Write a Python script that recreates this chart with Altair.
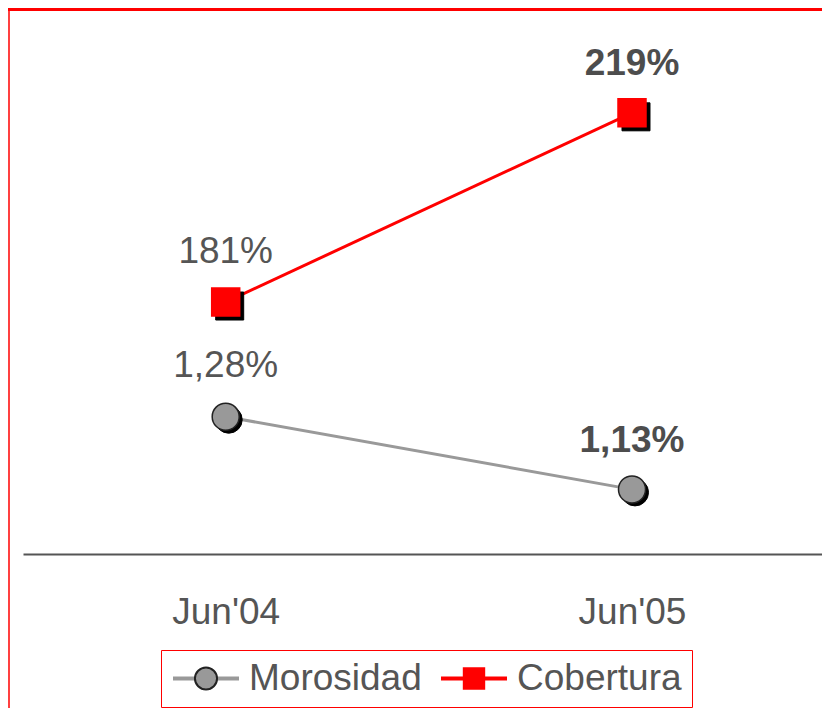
import altair as alt
import pandas as pd

# ---- data ----
periods = ["Jun'04", "Jun'05"]
series_names = ["Morosidad", "Cobertura"]
morosidad = [1.28, 1.13]
cobertura = [181, 219]
bold_flags = [False, True]


def fmt_pct(v, dec):
    return f"{v:.{dec}f}".replace(".", ",") + "%"


mor_df = pd.DataFrame({
    "period": periods,
    "value": morosidad,
    "label": [fmt_pct(v, 2) for v in morosidad],
    "series": "Morosidad",
    "bold": bold_flags,
})
cob_df = pd.DataFrame({
    "period": periods,
    "value": cobertura,
    "label": [fmt_pct(v, 0) for v in cobertura],
    "series": "Cobertura",
    "bold": bold_flags,
})

# ---- style ----
W, H = 799, 542
PAD = {"left": 15, "top": 4, "right": 0, "bottom": 154}
FONT = "Liberation Sans"
TEXT_COLOR = "#555555"
GRAY = "#999999"
RED = "#ff0000"

x_enc = alt.X(
    "period:N",
    sort=periods,
    scale=alt.Scale(type="point", padding=0.48327, align=0.51617),
    axis=alt.Axis(
        title=None, ticks=False, tickSize=0, grid=False,
        domainColor="#555555", domainWidth=2,
        labelFont=FONT, labelFontSize=37, labelColor=TEXT_COLOR,
        labelPadding=40, labelAngle=0,
    ),
)

legend_common = dict(
    title=None, orient="none", legendX=138, legendY=638,
    direction="horizontal", labelFont=FONT, labelFontSize=37,
    labelOffset=8, columnPadding=17, padding=10, clipHeight=37,
    symbolOffset=0, labelLimit=400,
)

legend_a = alt.Legend(
    symbolType="stroke", symbolSize=4356, symbolStrokeWidth=4,
    labelColor=TEXT_COLOR, strokeColor=RED, **legend_common,
)

color_scale = alt.Scale(domain=series_names, range=[GRAY, RED])
legend_line_scale = alt.Scale(domain=series_names, range=["#a0a0a0", RED])


def series_layer(df, domain, shape, size, fill, stroke, shadow_off):
    y = alt.Y("value:Q", scale=alt.Scale(domain=domain, nice=False, zero=False), axis=None)
    base = alt.Chart(df)
    line = base.mark_line(strokeWidth=3).encode(
        x=x_enc, y=y,
        color=alt.Color("series:N", scale=color_scale, legend=legend_a),
    )
    shadow = base.mark_point(
        shape=shape, size=size, filled=True, fill="black", stroke="black",
        strokeWidth=1, opacity=1, xOffset=shadow_off, yOffset=shadow_off,
    ).encode(x=x_enc, y=y)
    pts = base.mark_point(
        shape=shape, size=size, filled=True, fill=fill, stroke=stroke,
        strokeWidth=1.5, opacity=1,
    ).encode(x=x_enc, y=y)
    lab_n = base.transform_filter("!datum.bold").mark_text(
        font=FONT, fontSize=37, color=TEXT_COLOR, baseline="alphabetic", dy=-39.5,
    ).encode(x=x_enc, y=y, text="label:N")
    lab_b = base.transform_filter("datum.bold").mark_text(
        font=FONT, fontSize=37, fontWeight="bold", color="#4d4d4d",
        baseline="alphabetic", dy=-37.5,
    ).encode(x=x_enc, y=y, text="label:N")
    return alt.layer(line, shadow, pts, lab_n, lab_b)


mor_layer = series_layer(mor_df, [0.9967, 2.115], "circle", 730, GRAY, "#222222", 3)
cob_layer = series_layer(cob_df, [130.39, 239.25], "square", 784, RED, RED, 4)

# ---- legend markers (second legend overlaid on the line legend) ----
legend_keys = ["M", "C"]
circle_path = "M-0.325,0A0.325,0.325 0 1,0 0.325,0A0.325,0.325 0 1,0 -0.325,0Z"
square_path = "M-0.3,-0.3H0.3V0.3H-0.3Z"
legend_b = alt.Legend(
    symbolSize=4624, symbolStrokeWidth=2, labelOpacity=0,
    labelExpr="datum.label == 'M' ? 'Morosidad' : 'Cobertura'",
    **legend_common,
)
leg_layer = alt.Chart(pd.DataFrame({"key": legend_keys})).transform_filter("false").mark_point(
    filled=True, opacity=1
).encode(
    shape=alt.Shape("key:N", scale=alt.Scale(domain=legend_keys, range=[circle_path, square_path]), legend=legend_b),
    fill=alt.Fill("key:N", scale=alt.Scale(domain=legend_keys, range=[GRAY, RED]), legend=legend_b),
    stroke=alt.Stroke("key:N", scale=alt.Scale(domain=legend_keys, range=["#222222", RED]), legend=legend_b),
)

# ---- frame decorations ----
one = pd.DataFrame({"k": [0]})
band = alt.Chart(one).mark_rect(color=RED).encode(
    x=alt.value(-15), x2=alt.value(W), y=alt.value(-4), y2=alt.value(-1)
)
vline = alt.Chart(one).mark_rule(color=RED, strokeWidth=1.5).encode(
    x=alt.value(-14), y=alt.value(-4), y2=alt.value(H + PAD["bottom"])
)

chart = alt.layer(band, vline, mor_layer, cob_layer, leg_layer).resolve_scale(
    y="independent"
).properties(
    width=W, height=H, padding=PAD, autosize=alt.AutoSizeParams(type="none"),
    background="white",
).configure_view(stroke=None)

chart.save("out.html", embed_options={"renderer": "svg", "actions": False})
